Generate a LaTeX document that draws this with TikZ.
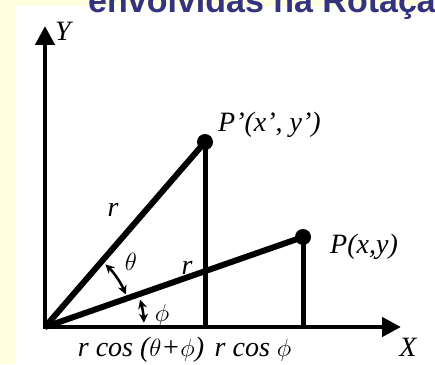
\documentclass[tikz,border=0pt]{standalone}
\usepackage{fontspec}
\setmainfont{Liberation Serif}
\newfontfamily\titlefont{Liberation Sans}
\usetikzlibrary{arrows.meta}
\definecolor{bgyellow}{RGB}{255,255,224}
\definecolor{titleblue}{RGB}{51,51,128}
\begin{document}
\begin{tikzpicture}[x=1pt,y=1pt,
  heavy/.style={line width=6pt},
  vert/.style={line width=5pt},
  axis/.style={line width=4.5pt,-{Triangle[length=19pt,width=19pt]}},
  anglearrow/.style={line width=2.5pt,{Stealth[length=9pt,width=9pt]}-{Stealth[length=9pt,width=9pt]}},
  lbl/.style={font=\fontsize{28}{32}\selectfont\itshape, inner sep=0pt},
  ptdot/.style={circle,fill=black,minimum size=16pt,inner sep=0pt}]
\useasboundingbox (0,0) rectangle (435,364);
\clip (0,0) rectangle (435,364);
\fill[bgyellow] (0,0) rectangle (435,364);
\fill[white] (16,0) rectangle (435,358);
\node[anchor=base west, font=\titlefont\bfseries\fontsize{34}{40}\selectfont, text=titleblue, inner sep=0pt] (title) at (88,351) {envolvidas na Rotação};
\coordinate (O) at (45,37);
\coordinate (Ytip) at (45,338);
\coordinate (Xtip) at (401,37);
\node[ptdot] (Pp) at (205,222) {};
\node[ptdot] (P) at (303,127) {};
\coordinate (Fp) at (205,37);
\coordinate (F) at (303,37);
\draw[axis, line cap=rect] (O) -- (Ytip);
\draw[axis, line cap=rect] (O) -- (Xtip);
\draw[vert] (Pp.center) -- (Fp);
\draw[vert] (P.center) -- (F);
\draw[heavy] (O) -- (Pp.center);
\draw[heavy] (O) -- (P.center);
\draw[anglearrow] ([shift={(46:87)}]O) arc[start angle=46, end angle=22, radius=87];
\draw[anglearrow] ([shift={(16:99)}]O) arc[start angle=16, end angle=2.5, radius=99];
\node[lbl] (ylab) at (63,333) {Y};
\node[lbl] (xlab) at (408,17) {X};
\node[lbl, anchor=west] (pplab) at (218,239) {P’(x’, y’)};
\node[lbl, anchor=west] (plab) at (330,117) {P(x,y)};
\node[lbl] (r1) at (113,154) {r};
\node[lbl] (r2) at (187,96) {r};
\node[lbl] (th) at (131,102) {$\theta$};
\node[lbl] (ph) at (162,49) {$\phi$};
\node[lbl] (b1) at (141,14) {r cos ($\theta$+$\phi$)};
\node[lbl] (b2) at (253,14) {r cos $\phi$};
\end{tikzpicture}
\end{document}
